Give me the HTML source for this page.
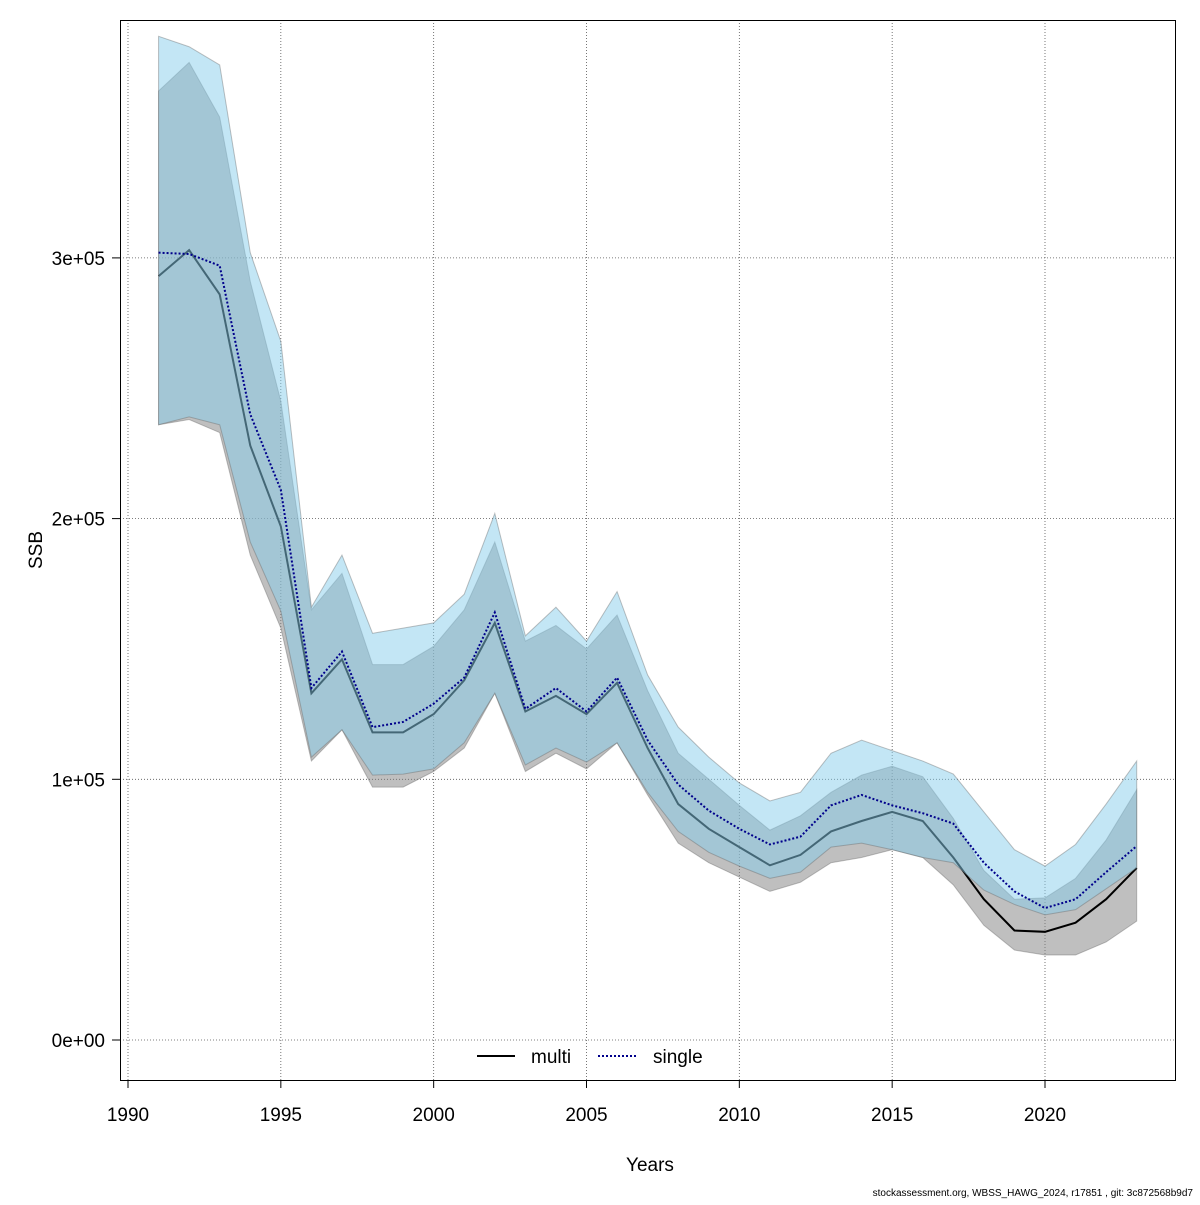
<!DOCTYPE html>
<html><head><meta charset="utf-8"><style>
body{margin:0;background:#fff}
svg text{font-family:"Liberation Sans",sans-serif}
</style></head><body>
<svg id="c" width="1200" height="1200" xmlns="http://www.w3.org/2000/svg">
<rect x="0" y="0" width="1200" height="1200" fill="#fff"/>
<g id="grid"></g><g id="bands"></g><g id="lines"></g><g id="axes"></g>
<rect x="120.5" y="20.5" width="1055" height="1060" fill="none" stroke="#000"/>
<text x="650" y="1171" font-size="19" text-anchor="middle">Years</text>
<text transform="translate(42,550) rotate(-90)" font-size="19" text-anchor="middle">SSB</text>
<g>
<line x1="477" y1="1056" x2="515" y2="1056" stroke="#000" stroke-width="2"/>
<text x="531" y="1063" font-size="19">multi</text>
<line x1="598" y1="1056" x2="636" y2="1056" stroke="#00008b" stroke-width="2" stroke-dasharray="2,2"/>
<text x="653" y="1063" font-size="19">single</text>
</g>
<text x="1193" y="1196" font-size="10" text-anchor="end">stockassessment.org, WBSS_HAWG_2024, r17851 , git: 3c872568b9d7</text>
</svg>
<script>
const years=[1991,1992,1993,1994,1995,1996,1997,1998,1999,2000,2001,2002,2003,2004,2005,2006,2007,2008,2009,2010,2011,2012,2013,2014,2015,2016,2017,2018,2019,2020,2021,2022,2023];
const multiSSB=[293,303,286,228,197,133,146,118,118,125,138,160,126,132,125,137,112,90.5,81,74,67,71,80,84,87.5,84,70,54,42,41.5,45,54,66];
const multiLow=[236,238,233,186,158,107,119,97,97,103,112,133,103,110,104,114,94,75.5,68,62.5,57,60.5,68,70,73,70,59.5,44,34.5,32.6,32.6,37.6,45.6];
const multiHigh=[364,375,354,291,245,165,179,144,144,151,165,191,153,159,150,163,134,110,100,90,80.5,86,95,101.6,105,101,85,65,54,54.5,62,76.7,96];
const singleSSB=[302,301.5,297,240,211,135,149,120,122,129,139,164,127,135,126,139,115,98,88,81,75,78,90,94,90,87,83,68,57,50.6,54,64.4,74.4];
const singleLow=[236,239,236,191,164.5,108.5,119,101.6,102,104,114,133,105.5,112,106.6,114,95,80,72,66.7,62,64.4,74,75.5,73,70,68,57.5,52,48,50,58,66];
const singleHigh=[385,381,374,302,268,166,186,156,158,160,171,202,155,166,153,172,140,120,108.5,98.6,91.7,95,110,115,111,107,102,87.5,73,66.7,75,90.5,107];
const xTicks=[1990,1995,2000,2005,2010,2015,2020];
const yTicks=[0,100,200,300];
const yTickLabels=["0e+00","1e+05","2e+05","3e+05"];
const NS="http://www.w3.org/2000/svg";
const X=y=>128+(y-1990)*(1045-128)/30;
const Y=v=>1040-v*2.607;
function mk(p,t,a){const e=document.createElementNS(NS,t);for(const k in a)e.setAttribute(k,a[k]);document.getElementById(p).appendChild(e);return e;}
xTicks.forEach(t=>{
 let g=mk('grid','line',{x1:X(t),x2:X(t),y1:20,y2:1080,stroke:'#555','stroke-width':0.8,'stroke-dasharray':'1,2'});
 
 
 let k=mk('axes','line',{x1:X(t),x2:X(t),y1:1080,y2:1088,stroke:'#000'});
 
 
 let l=mk('axes','text',{x:X(t),y:1121,'font-size':19,'text-anchor':'middle'});l.textContent=t;
 
 
});
yTicks.forEach((t,i)=>{
 let g=mk('grid','line',{x1:120,x2:1175,y1:Y(t),y2:Y(t),stroke:'#555','stroke-width':0.8,'stroke-dasharray':'1,2'});
 
 
 let k=mk('axes','line',{x1:112,x2:120,y1:Y(t),y2:Y(t),stroke:'#000'});
 
 
 let l=mk('axes','text',{x:105,y:Y(t)+7,'font-size':19,'text-anchor':'end'});l.textContent=yTickLabels[i];
 
 
});
function band(lo,hi,fill,name){
 let pts=years.map((y,i)=>X(y)+','+Y(hi[i]));
 for(let i=years.length-1;i>=0;i--)pts.push(X(years[i])+','+Y(lo[i]));
 let p=mk('bands','polygon',{points:pts.join(' '),fill:fill,stroke:'rgba(100,100,100,0.4)','stroke-width':1});
 
 
}
function line(par,v,stroke,dash,name){
 let p=mk(par,'polyline',{points:years.map((y,i)=>X(y)+','+Y(v[i])).join(' '),fill:'none',stroke:stroke,'stroke-width':2});
 if(dash)p.setAttribute('stroke-dasharray',dash);
 
 
}
band(multiLow,multiHigh,'rgba(128,128,128,0.5)','multi-confidence-band');
line('bands',multiSSB,'#000',null,'multi-line');
band(singleLow,singleHigh,'rgba(135,206,235,0.5)','single-confidence-band');
line('lines',singleSSB,'#00008b','2,2','single-line');
</script>
</body></html>
